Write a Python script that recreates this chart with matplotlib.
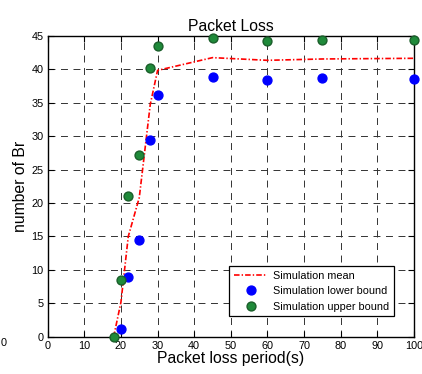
import numpy as np
import matplotlib
matplotlib.use('Agg')
import matplotlib.pyplot as plt

plt.rcParams['font.family'] = ['Liberation Sans', 'DejaVu Sans']
plt.rcParams['lines.scale_dashes'] = False

# data
x_mean = [18, 20, 22, 25, 28, 30, 45, 60, 75, 100]
y_mean = [0, 5.2, 15.0, 20.8, 34.7, 39.8, 41.7, 41.3, 41.5, 41.6]

x_low = [20, 22, 25, 28, 30, 45, 60, 75, 100]
y_low = [1.2, 8.9, 14.5, 29.4, 36.1, 38.8, 38.3, 38.6, 38.5]

x_up = [18, 20, 22, 25, 28, 30, 45, 60, 75, 100]
y_up = [0, 8.5, 21.0, 27.1, 40.1, 43.5, 44.7, 44.2, 44.4, 44.4]

xticks = np.arange(0, 101, 10)
yticks = np.arange(0, 46, 5)

fig = plt.figure(figsize=(4.22, 3.74), dpi=100)
ax = fig.add_axes([0.113, 0.099, 0.868, 0.806])

ax.plot(x_mean, y_mean, color='red', linestyle=(0, (4, 1.5, 1, 1.5)), linewidth=1.2,
        label='Simulation mean', zorder=3)
ax.plot(x_low, y_low, 'o', color='#0000ff', markeredgecolor='#0000ff', markersize=6.4,
        label='Simulation lower bound', zorder=4, clip_on=False)
ax.plot(x_up, y_up, 'o', color='#1f8a3a', markeredgecolor='#1a5e2a', markersize=6.4,
        label='Simulation upper bound', zorder=4, clip_on=False)

ax.set_xlim(0, 100)
ax.set_ylim(0, 45)
ax.set_xticks(xticks)
ax.set_yticks(yticks)
ax.tick_params(direction='in', top=True, right=True, labelsize=7.8, length=4, width=0.8, pad=3)
ax.grid(True, color='#333333', linestyle=(0, (5, 4)), linewidth=0.7)
for s in ax.spines.values():
    s.set_linewidth(1.0)

ax.set_title('Packet Loss', fontsize=11.3, pad=3)
ax.set_xlabel('Packet loss period(s)', fontsize=11.3, labelpad=0)
ax.set_ylabel('number of Br', fontsize=11.3, labelpad=2)

leg = ax.legend(loc='lower right', bbox_to_anchor=(0.96, 0.05), fontsize=7.8, fancybox=False,
                framealpha=1, edgecolor='black', handlelength=3.1, handletextpad=0.5,
                borderpad=0.45, labelspacing=0.5)
leg.get_frame().set_linewidth(0.9)

# stray label fragment at the left edge of the reference
fig.text(0.002, 0.082, '0', fontsize=7.8, ha='left', va='center')

fig.savefig('out.png', dpi=100)
